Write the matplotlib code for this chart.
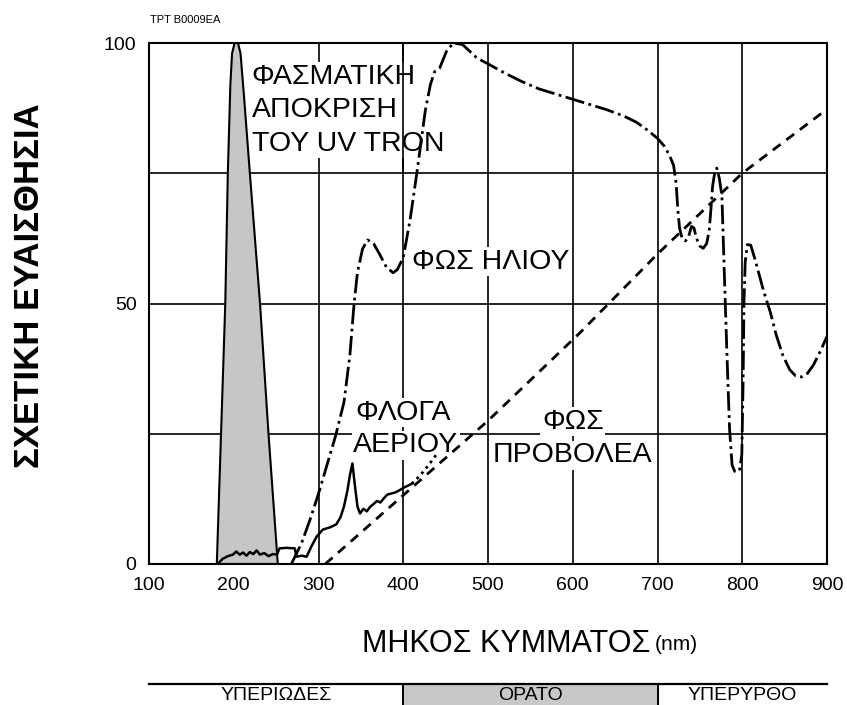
import matplotlib
matplotlib.use("Agg")
import matplotlib.pyplot as plt

plt.rcParams['font.family'] = ['Liberation Sans', 'DejaVu Sans']

# UV TRON spectral response (filled peak)
uv_x = [180, 185, 190, 193, 196, 198, 201, 205, 208, 212, 219, 231, 241, 252]
uv_y = [0, 25, 50, 75, 92, 98, 100, 100, 98, 90, 75, 50, 25, 0]

# sunlight (dash-dot)
sun_x = [268, 280, 290, 300, 310, 320, 330, 337, 342, 346, 352, 358, 365, 372, 380, 388,
         393, 400, 408, 416, 426, 432, 437, 443, 451, 459, 470, 487, 500, 520, 540, 560,
         580, 600, 620, 640, 660, 675, 688, 700, 708, 714, 719, 722, 724, 726, 729, 733,
         737, 740, 743, 746, 750, 754, 758, 761, 763, 765, 768, 770, 773, 776, 779, 782,
         785, 788, 791, 794, 797, 799.5, 801, 802, 803.5, 806, 810, 815, 820, 825, 833,
         840, 848, 856, 863, 870, 877, 884, 892, 900]
sun_y = [0, 4, 8.5, 13.5, 19, 24.5, 31, 40, 50, 56, 60.5, 62.2, 61.5, 59.5, 57, 55.9,
         56.5, 58.8, 66, 75, 87, 92, 94.5, 95.2, 98.4, 100, 99.7, 97.1, 96, 94.2, 92.6, 91.2,
         90.2, 89.2, 88.2, 87.2, 86, 84.8, 83.3, 81.7, 80.2, 78.5, 76.5, 73, 68, 64.5, 62.5, 62,
         63, 64.8, 64.5, 62.5, 61, 60.6, 61.5, 64, 68, 72.5, 75.6, 76, 74, 70.6, 55, 40,
         26, 19, 17.8, 17.6, 18.2, 21, 35, 50, 58, 61.3, 61.2, 58.5, 55.5, 52.5, 48.4,
         44, 40, 37.3, 36.1, 35.9, 36.6, 38.2, 40.8, 43.7]

# gas flame (solid, then dotted)
flame_x = [181, 187, 193, 199, 203, 207, 211, 215, 219, 223, 227, 231, 236, 241, 246, 251,
           254, 262, 272, 274, 280, 286, 292, 298, 305, 313, 321, 326, 330, 334, 337, 340,
           343, 346, 349, 353, 357, 361, 365, 369, 373, 377, 381, 385, 390, 395, 400, 405, 410]
flame_y = [0, 1.0, 1.5, 1.8, 2.4, 1.8, 2.2, 1.6, 2.3, 1.9, 2.6, 1.8, 2.1, 1.5, 1.9, 1.8,
           3.0, 3.1, 3.0, 1.4, 1.6, 1.4, 3.5, 5.3, 6.6, 7.0, 7.6, 9.0, 11, 14, 17, 19.3,
           15, 11, 9.7, 10.6, 10.1, 11, 11.5, 12.1, 11.8, 12.6, 13.3, 13.5, 13.7, 14.1, 14.6, 15.0, 15.4]
flame_dot_x = [410, 420, 430, 440]
flame_dot_y = [15.4, 17.0, 19.0, 21.2]

# projector light (dashed)
proj_x = [308, 400, 500, 608, 700, 800, 900]
proj_y = [0, 13.2, 27.5, 44.3, 59.5, 75, 87.3]

bands = ['ΥΠΕΡΙΩΔΕΣ', 'ΟΡΑΤΟ', 'ΥΠΕΡΥΡΘΟ']
band_edges = [100, 400, 700, 900]

fig = plt.figure(figsize=(8.47, 7.05), dpi=100)
ax = fig.add_axes([149/847, 1 - 564/705, 678/847, 521/705])

ax.set_xlim(100, 900)
ax.set_ylim(0, 100)
ax.set_xticks(range(100, 1000, 100))
ax.set_yticks([0, 50, 100])
ax.set_yticks([25, 75], minor=True)
ax.tick_params(which='both', length=0, labelsize=14, pad=9)
ax.grid(True, which='both', color='black', lw=1.2)
ax.set_axisbelow(True)
for s in ax.spines.values():
    s.set_linewidth(1.5)

ax.fill(uv_x, uv_y, facecolor='#c6c6c6', edgecolor='black', lw=1.5, zorder=2)
ax.plot(sun_x, sun_y, color='black', lw=2, ls=(0, (7, 1.6, 1, 1.6)), zorder=4)
ax.plot(flame_x, flame_y, color='black', lw=1.8, zorder=4)
ax.plot(flame_dot_x, flame_dot_y, color='black', lw=2, ls=(0, (1, 1.5)), zorder=4)
ax.plot(proj_x, proj_y, color='black', lw=2, ls=(0, (3.5, 2.6)), zorder=4)

lab = 20.5
box = dict(facecolor='white', edgecolor='none', pad=1)
ax.text(221, 96, 'ΦΑΣΜΑΤΙΚΗ\nΑΠΟΚΡΙΣΗ\nΤΟΥ UV TRON', fontsize=lab, va='top', ha='left',
        linespacing=1.38, bbox=box, zorder=3)
ax.axvline(400, ymin=0.75, color='black', lw=1.2, zorder=3.5)
ax.text(410, 58, 'ΦΩΣ ΗΛΙΟΥ', fontsize=lab, va='center', ha='left', bbox=box, zorder=3)
ax.text(343, 29, 'ΦΛΟΓΑ', fontsize=lab, va='center', ha='left', bbox=box, zorder=3)
ax.text(341, 22.8, 'ΑΕΡΙΟΥ', fontsize=lab, va='center', ha='left', bbox=box, zorder=3)
ax.text(600, 27.3, 'ΦΩΣ', fontsize=lab, va='center', ha='center', bbox=box, zorder=3)
ax.text(600, 20.9, 'ΠΡΟΒΟΛΕΑ', fontsize=lab, va='center', ha='center', bbox=box, zorder=3)

ax.set_ylabel('ΣΧΕΤΙΚΗ ΕΥΑΙΣΘΗΣΙΑ', fontsize=25, fontweight='bold')
ax.yaxis.set_label_coords(-0.152, 0.534)
fig.text(362 / 847, 1 - 644 / 705, 'ΜΗΚΟΣ ΚΥΜΜΑΤΟΣ', fontsize=22,
         ha='left', va='center')
fig.text(655 / 847, 1 - 645 / 705, '(nm)', fontsize=15, ha='left', va='center')
fig.text(150 / 847, 1 - 20 / 705, 'TPT B0009EA', fontsize=8, ha='left', va='center')

# spectral band bar at the bottom
bx = fig.add_axes([149/847, 0, 678/847, 21/705])
bx.set_xlim(100, 900)
bx.set_ylim(0, 1)
bx.axis('off')
bx.axvspan(band_edges[1], band_edges[2], color='#c8c8c8', ymax=0.95)
bx.axhline(1, color='black', lw=1.6, clip_on=False)
bx.vlines(band_edges[1:3], 0, 1, color='black', lw=1.4)
for i, name in enumerate(bands):
    cx = 0.5 * (band_edges[i] + band_edges[i + 1])
    bx.text(cx, 0.05, name, fontsize=14, ha='center', va='bottom', clip_on=False)

fig.savefig('out.png', dpi=100)
